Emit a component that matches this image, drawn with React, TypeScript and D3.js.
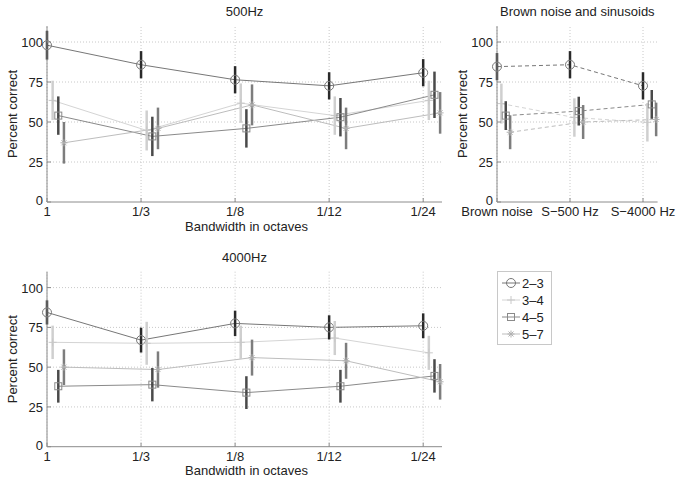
import { scaleLinear, line } from "d3";

const bwLabels = ["1", "1/3", "1/8", "1/12", "1/24"];
const sinLabels = ["Brown noise", "S\u2212500 Hz", "S\u22124000 Hz"];
const groups = ["2\u20133", "3\u20134", "4\u20135", "5\u20137"];
const yTicks = [0, 25, 50, 75, 100];

// 500Hz panel: means and half error bars per group
const hz500Mean = [
  [98, 85.8, 76.4, 72.6, 80.8],
  [63.5, 44.7, 61.8, 54, 63.5],
  [54, 41, 46, 53, 67],
  [37, 46, 60.7, 46, 55.7],
];
const hz500Err = [
  [9, 8.5, 8.5, 8.5, 8.5],
  [12.3, 12.5, 12.3, 12, 12.3],
  [12, 12.3, 12, 12, 14.5],
  [13, 13, 12.8, 13, 13],
];

// brown noise and sinusoids
const sinMean = [
  [84.6, 85.8, 72.6],
  [61.5, 52.8, 49.8],
  [54, 56.8, 61],
  [43.6, 50, 51.6],
];
const sinErr = [
  [8.5, 8.5, 8.5],
  [12.5, 12, 12],
  [9, 9, 9],
  [10.6, 10.6, 10.5],
];

// 4000Hz panel
const hz4000Mean = [
  [84.4, 67, 77.5, 75, 76],
  [65.6, 65, 65.6, 68.3, 59],
  [38, 39, 34, 38, 44.5],
  [50, 48.5, 56, 54, 40.8],
];
const hz4000Err = [
  [7.6, 7.8, 8, 7.6, 7.8],
  [10.5, 13.5, 10.5, 10.7, 10.7],
  [10.3, 10.5, 10.3, 10.3, 10.5],
  [11.2, 11.4, 11.3, 11.3, 11.2],
];

const offsets = [0, 0.06, 0.12, 0.18];
const lineColors = ["#777", "#d4d4d4", "#8a8a8a", "#bdbdbd"];
const barColors = ["#2a2a2a", "#cfcfcf", "#4a4a4a", "#7d7d7d"];
const markColors = ["#777", "#c8c8c8", "#8a8a8a", "#b0b0b0"];
const font = "'Liberation Sans', Arial, sans-serif";
const axisColor = "#8c8c8c";

function Marker({ kind, x, y, color }: any) {
  if (kind === 0) return <circle cx={x} cy={y} r={4.5} fill="none" stroke={color} strokeWidth={1} />;
  if (kind === 1)
    return (
      <g stroke={color} strokeWidth={1}>
        <line x1={x - 4} x2={x + 4} y1={y} y2={y} />
        <line x1={x} x2={x} y1={y - 4} y2={y + 4} />
      </g>
    );
  if (kind === 2) return <rect x={x - 3.5} y={y - 3.5} width={7} height={7} fill="none" stroke={color} strokeWidth={1} />;
  return (
    <g stroke={color} strokeWidth={1}>
      <line x1={x - 3.5} x2={x + 3.5} y1={y} y2={y} />
      <line x1={x} x2={x} y1={y - 3.5} y2={y + 3.5} />
      <line x1={x - 2.5} x2={x + 2.5} y1={y - 2.5} y2={y + 2.5} />
      <line x1={x - 2.5} x2={x + 2.5} y1={y + 2.5} y2={y - 2.5} />
    </g>
  );
}

function Panel({ x0, x1, y0, y1, labels, xMax, means, errs, title, xLabel, dashed }: any) {
  const xs = scaleLinear().domain([0, xMax]).range([x0, x1]);
  const ys = scaleLinear().domain([0, 110]).range([y0, y1]);
  const path = line<any>()
    .x((d) => xs(d[0]))
    .y((d) => ys(d[1]));
  const cx = (x0 + x1) / 2;
  return (
    <g fontFamily={font}>
      {yTicks.slice(1).map((t) => (
        <line key={"gy" + t} x1={x0} x2={x1} y1={ys(t)} y2={ys(t)} stroke="#c8c8c8" strokeDasharray="1,2" />
      ))}
      {labels.map((l: string, i: number) => (
        <line key={"gx" + i} x1={xs(i)} x2={xs(i)} y1={y0} y2={y1} stroke="#c8c8c8" strokeDasharray="1,2" />
      ))}
      {means.map((m: number[], g: number) => (
        <path
          key={"l" + g}
          d={path(m.map((v, i) => [i + offsets[g], v])) || ""}
          fill="none"
          stroke={lineColors[g]}
          strokeWidth={1}
          strokeDasharray={dashed ? "4,3" : undefined}
        />
      ))}
      {means.map((m: number[], g: number) =>
        m.map((v, i) => (
          <g key={"e" + g + "-" + i}>
            <line
              x1={xs(i + offsets[g])}
              x2={xs(i + offsets[g])}
              y1={ys(v - errs[g][i])}
              y2={ys(v + errs[g][i])}
              stroke={barColors[g]}
              strokeWidth={2.5}
            />
            <Marker kind={g} x={xs(i + offsets[g])} y={ys(v)} color={markColors[g]} />
          </g>
        ))
      )}
      <line x1={x0} x2={x0} y1={y0} y2={y1} stroke={axisColor} />
      <line x1={x0} x2={x1} y1={y0} y2={y0} stroke={axisColor} />
      {labels.map((l: string, i: number) => (
        <g key={"t" + i}>
          <line x1={xs(i)} x2={xs(i)} y1={y0} y2={y0 - 4} stroke={axisColor} />
          <text x={xs(i)} y={y0 + 14} textAnchor="middle" fontSize={13} fill="#222">
            {l}
          </text>
        </g>
      ))}
      {yTicks.map((t) => (
        <g key={"yt" + t}>
          <line x1={x0} x2={x0 + 4} y1={ys(t)} y2={ys(t)} stroke={axisColor} />
          <text x={x0 - 4} y={ys(t) + (t === 0 ? 3 : 5)} textAnchor="end" fontSize={13} fill="#222">
            {t}
          </text>
        </g>
      ))}
      <text x={cx} y={y1 - 10} textAnchor="middle" fontSize={13} fill="#222">
        {title}
      </text>
      {xLabel && (
        <text x={cx + 2} y={y0 + 28.5} textAnchor="middle" fontSize={13} fill="#222">
          {xLabel}
        </text>
      )}
      <text
        transform={`translate(${x0 - 30},${(y0 + y1) / 2}) rotate(-90)`}
        textAnchor="middle"
        fontSize={13}
        fill="#222"
      >
        Percent correct
      </text>
    </g>
  );
}

export default function App() {
  return (
    <svg width={677} height={480} style={{ position: "absolute", left: 0, top: 0, background: "#fff" }}>
      <Panel x0={47} x1={442} y0={202} y1={26} labels={bwLabels} xMax={4.2} means={hz500Mean} errs={hz500Err} title="500Hz" xLabel="Bandwidth in octaves" />
      <Panel x0={497} x1={657.6} y0={202} y1={26} labels={sinLabels} xMax={2.2} means={sinMean} errs={sinErr} title="Brown noise and sinusoids" dashed />
      <Panel x0={47} x1={442} y0={446.7} y1={271.7} labels={bwLabels} xMax={4.2} means={hz4000Mean} errs={hz4000Err} title="4000Hz" xLabel="Bandwidth in octaves" />
      <g fontFamily={font}>
        <rect x={497.5} y={271.5} width={54} height={73} fill="#fff" stroke="#c8c8c8" />
        {groups.map((g, i) => {
          const y = 283 + i * 17;
          return (
            <g key={g}>
              <line x1={502} x2={520} y1={y} y2={y} stroke={lineColors[i]} />
              <Marker kind={i} x={511} y={y} color={markColors[i]} />
              <text x={522} y={y + 5} fontSize={13} fill="#222">
                {g}
              </text>
            </g>
          );
        })}
      </g>
    </svg>
  );
}
